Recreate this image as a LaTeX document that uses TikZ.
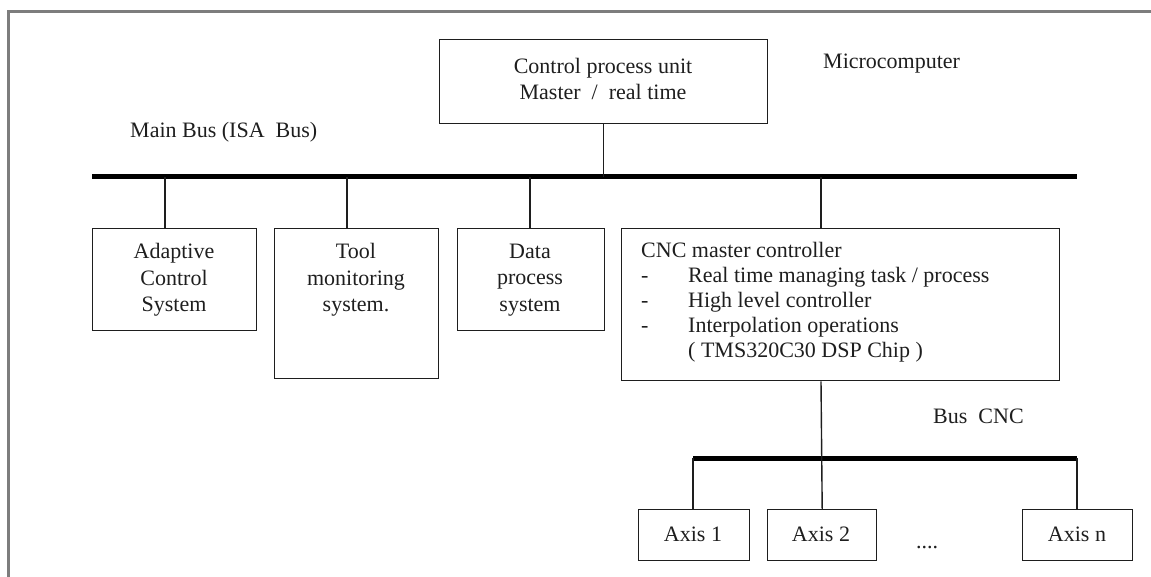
\documentclass[tikz,border=0pt]{standalone}
\usepackage{fontspec}
\setmainfont{Liberation Serif}
\definecolor{ink}{RGB}{30,30,30}
\definecolor{framegray}{RGB}{125,125,125}
\begin{document}
\begin{tikzpicture}[x=1pt,y=-1pt,
  every node/.style={font=\fontsize{22}{26.5}\selectfont, text=ink},
  box/.style={draw=ink, line width=1.4pt, inner sep=0pt, anchor=north west},
  lbl/.style={align=center, inner sep=0pt},
  stem/.style={draw=ink, line width=1.4pt},
  bus/.style={draw=black, line width=5pt},
  frameline/.style={draw=framegray, line width=3pt}]
\useasboundingbox (0,0) rectangle (1151,577);

% outer frame (top and left edges)
\coordinate (fBL) at (8,577);
\coordinate (fTL) at (8,12);
\coordinate (fTR) at (1151,12);
\draw[frameline] (fBL) -- (fTL) -- (fTR);

% control process unit
\node[box, minimum width=328pt, minimum height=84pt] (cpu) at (439,39) {};
\node[lbl] (cpu-t) at (603,79) {Control process unit\\Master \ / \ real time};
\node[anchor=west, inner sep=0pt] (micro) at (823,64) {Microcomputer};

% main bus
\node[anchor=west, inner sep=0pt] (mainbus) at (130,132) {Main Bus (ISA \ Bus)};
\coordinate (mbL) at (92,177);
\coordinate (mbR) at (1077,177);
\draw[bus] (mbL) -- (mbR);

% modules on the main bus
\node[box, minimum width=164pt, minimum height=102pt] (adapt) at (92,228) {};
\node[lbl] (adapt-t) at (174,280) {Adaptive\\Control\\System};
\node[box, minimum width=164pt, minimum height=150pt] (tool) at (274,228) {};
\node[lbl] (tool-t) at (356,280) {Tool\\monitoring\\system.};
\node[box, minimum width=147pt, minimum height=102pt] (data) at (457,228) {};
\node[lbl] (data-t) at (530,280) {Data\\process\\system};
\node[box, minimum width=438pt, minimum height=152pt] (cnc) at (621,228) {};
\node[anchor=base west, inner sep=0pt] (cnc-t) at (641,258) {\fontsize{22}{25}\selectfont
  \begin{tabular}[t]{@{}p{47pt}@{}l@{}}
  \multicolumn{2}{@{}l@{}}{CNC master controller}\\
  - & Real time managing task / process\\
  - & High level controller\\
  - & Interpolation operations\\
    & ( TMS320C30 DSP Chip )
  \end{tabular}};

% taps on the main bus
\coordinate (tapA) at (165,177);
\coordinate (tapT) at (347,177);
\coordinate (tapD) at (530,177);
\coordinate (tapC) at (821,177);
\draw[stem] (cpu.south) -- (cpu.south |- mbL);
\draw[stem] (tapA) -- (tapA |- adapt.north);
\draw[stem] (tapT) -- (tapT |- tool.north);
\draw[stem] (tapD) -- (tapD |- data.north);
\draw[stem] (tapC) -- (tapC |- cnc.north);

% CNC bus and axes
\node[anchor=west, inner sep=0pt] (cncbus) at (933,416) {Bus \ CNC};
\coordinate (cbL) at (693,458);
\coordinate (cbR) at (1077,458);
\node[box, minimum width=111pt, minimum height=51pt] (ax1) at (638,509) {};
\node[lbl] (ax1-t) at (693,534) {Axis 1};
\node[box, minimum width=109pt, minimum height=51pt] (ax2) at (767,509) {};
\node[lbl] (ax2-t) at (821,534) {Axis 2};
\node[anchor=base west, inner sep=0pt] (dots) at (916,548) {....};
\node[box, minimum width=110pt, minimum height=51pt] (axn) at (1022,509) {};
\node[lbl] (axn-t) at (1077,534) {Axis n};
\draw[bus] (cbL) -- (cbR);
\draw[stem] (cnc.south -| tapC) -- (ax2.north);
\draw[stem] (cbL) -- (cbL |- ax1.north);
\draw[stem] (cbR) -- (cbR |- axn.north);
\end{tikzpicture}
\end{document}
